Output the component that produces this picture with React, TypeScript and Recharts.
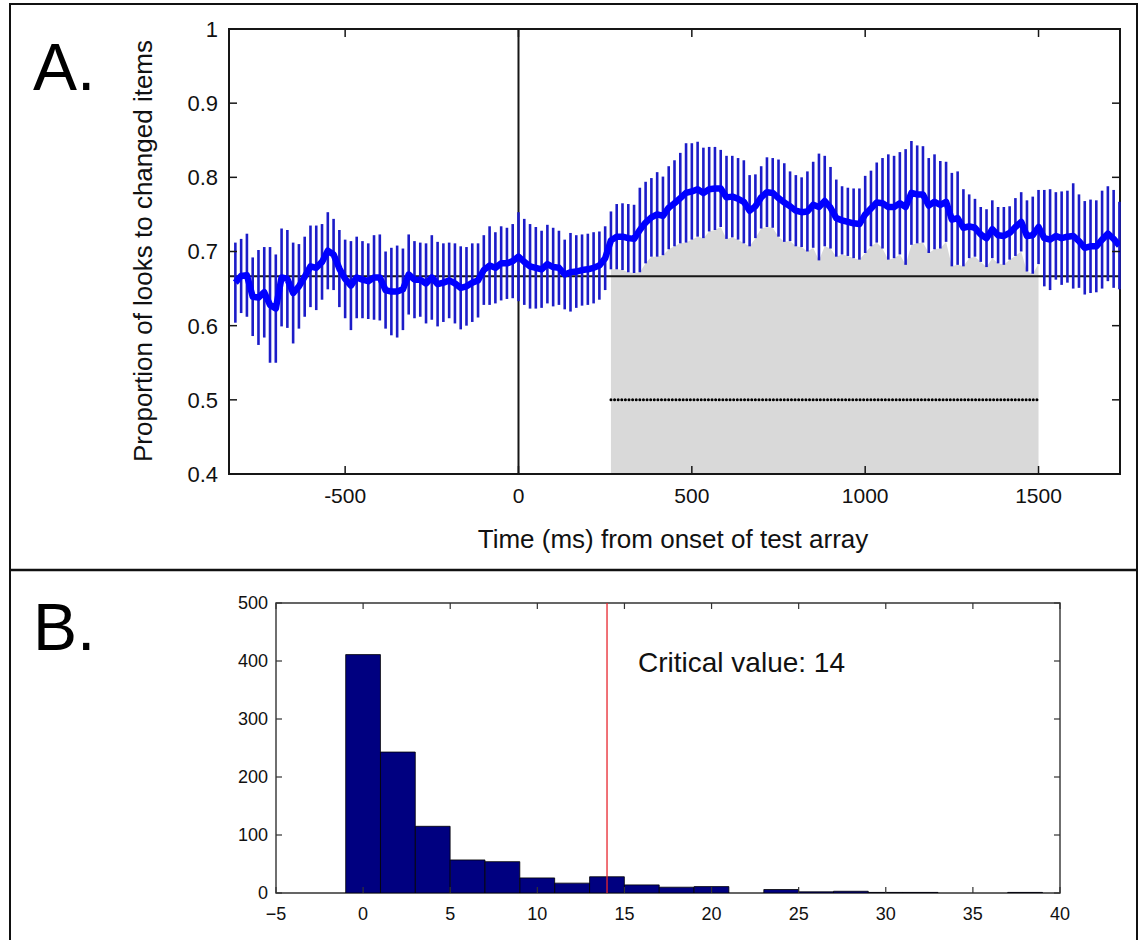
import React from "react";
import {
  Area,
  Bar,
  ComposedChart,
  ErrorBar,
  Line,
  ReferenceArea,
  ReferenceLine,
  XAxis,
  YAxis,
} from "recharts";

// Panel A: 60 Hz eye-tracking frames, first frame at -816.7 ms
const FRAME_MS = 1000 / 60;
const FIRST_FRAME_MS = -49 * FRAME_MS;

// mean proportion of looks to the changed item, one value per frame
const meanLooks = [
  0.658, 0.667, 0.668, 0.639, 0.638, 0.645, 0.628, 0.623, 0.665, 0.663,
  0.644, 0.653, 0.666, 0.68, 0.678, 0.686, 0.701, 0.696, 0.677, 0.663,
  0.654, 0.665, 0.662, 0.66, 0.665, 0.665, 0.648, 0.646, 0.646, 0.649,
  0.669, 0.662, 0.662, 0.657, 0.665, 0.656, 0.658, 0.661, 0.657, 0.651,
  0.653, 0.658, 0.661, 0.675, 0.681, 0.678, 0.684, 0.684, 0.687, 0.693,
  0.686, 0.68, 0.678, 0.676, 0.683, 0.679, 0.678, 0.669, 0.672, 0.673,
  0.675, 0.676, 0.678, 0.681, 0.691, 0.715, 0.72, 0.72, 0.718, 0.717,
  0.729, 0.739, 0.746, 0.75, 0.748, 0.759, 0.765, 0.772, 0.779, 0.781,
  0.784, 0.779, 0.784, 0.785, 0.785, 0.773, 0.774, 0.771, 0.767, 0.755,
  0.761, 0.773, 0.78, 0.779, 0.772, 0.766, 0.761, 0.755, 0.753, 0.754,
  0.763, 0.76, 0.768, 0.759, 0.745, 0.742, 0.74, 0.738, 0.737, 0.75,
  0.758, 0.766, 0.765, 0.76, 0.76, 0.765, 0.76, 0.779, 0.777, 0.777,
  0.762, 0.767, 0.763, 0.767, 0.743, 0.745, 0.732, 0.734, 0.732, 0.723,
  0.718, 0.73, 0.722, 0.721, 0.725, 0.733, 0.74, 0.721, 0.722, 0.733,
  0.718, 0.716, 0.721, 0.718, 0.72, 0.721, 0.714, 0.705, 0.707, 0.707,
  0.716, 0.724, 0.717, 0.708,
];

// standard error per frame
const semLooks = [
  0.054, 0.05, 0.056, 0.053, 0.064, 0.061, 0.078, 0.073, 0.066, 0.066,
  0.068, 0.057, 0.054, 0.055, 0.057, 0.051, 0.052, 0.048, 0.052, 0.053,
  0.06, 0.055, 0.052, 0.051, 0.057, 0.058, 0.052, 0.059, 0.062, 0.055,
  0.054, 0.052, 0.05, 0.054, 0.057, 0.057, 0.053, 0.051, 0.054, 0.056,
  0.053, 0.053, 0.05, 0.047, 0.053, 0.048, 0.05, 0.048, 0.05, 0.06,
  0.058, 0.057, 0.055, 0.052, 0.053, 0.053, 0.05, 0.047, 0.053, 0.049,
  0.048, 0.048, 0.048, 0.046, 0.043, 0.039, 0.044, 0.045, 0.046, 0.046,
  0.057, 0.055, 0.053, 0.057, 0.053, 0.056, 0.058, 0.061, 0.067, 0.065,
  0.064, 0.061, 0.057, 0.056, 0.052, 0.056, 0.055, 0.055, 0.056, 0.048,
  0.043, 0.042, 0.047, 0.047, 0.052, 0.053, 0.047, 0.048, 0.047, 0.054,
  0.058, 0.072, 0.061, 0.055, 0.052, 0.046, 0.046, 0.047, 0.048, 0.052,
  0.051, 0.054, 0.061, 0.071, 0.069, 0.069, 0.078, 0.07, 0.066, 0.065,
  0.064, 0.064, 0.059, 0.054, 0.063, 0.063, 0.052, 0.043, 0.039, 0.037,
  0.039, 0.039, 0.038, 0.039, 0.036, 0.039, 0.04, 0.048, 0.052, 0.05,
  0.065, 0.068, 0.059, 0.063, 0.062, 0.071, 0.063, 0.063, 0.063, 0.062,
  0.066, 0.064, 0.066, 0.059,
];

const CHANCE = 2 / 3;
const SIG_START = 266.7;
const SIG_END = 1500;
const SIG_MARK_Y = 0.5;

const xTicksA = [-500, 0, 500, 1000, 1500];
const yTicksA = [0.4, 0.5, 0.6, 0.7, 0.8, 0.9, 1];
const X_DOMAIN_A: [number, number] = [-835, 1735];

// Panel B: permutation distribution of cluster sizes
const binCenters = [0, 2, 4, 6, 8, 10, 12, 14, 16, 18, 20, 22, 24, 26, 28, 30, 32, 34, 36, 38];
const binCounts = [411, 243, 115, 57, 54, 26, 17, 28, 14, 10, 11, 0, 6, 2, 3, 1, 1, 0, 0, 1];
const BIN_WIDTH = 2;
const CRITICAL = 14;
const xTicksB = [-5, 0, 5, 10, 15, 20, 25, 30, 35, 40];
const yTicksB = [0, 100, 200, 300, 400, 500];
const X_DOMAIN_B: [number, number] = [-5, 40];

const FONT = '"Liberation Sans", Arial, Helvetica, sans-serif';
const INK = "#161616";

// plot boxes, in each chart's own svg coordinates
const A = { top: 29, bottom: 474, left: 229, right: 1120 };
const B = { top: 33, bottom: 323, left: 276, right: 1060 };

const rowsA = meanLooks.map((m, i) => {
  const t = FIRST_FRAME_MS + i * FRAME_MS;
  const inWindow = t >= SIG_START - 1 && t <= SIG_END + 1;
  return { t, mean: m, sem: semLooks[i], shade: inWindow ? m - semLooks[i] : null };
});

const rowsB = binCenters.map((c, i) => ({ bin: c, count: binCounts[i] }));

// one histogram bin in pixels, slightly under the band so recharts keeps it as given
const binPx = ((B.right - B.left) / (X_DOMAIN_B[1] - X_DOMAIN_B[0])) * BIN_WIDTH - 0.1;

function XTickA({ x, y, payload }: any) {
  return (
    <g>
      <line x1={x} x2={x} y1={y} y2={y - 8} stroke={INK} strokeWidth={1.5} />
      <line x1={x} x2={x} y1={A.top} y2={A.top + 8} stroke={INK} strokeWidth={1.5} />
      <text x={x} y={y + 29} textAnchor="middle" fontSize={21} fontFamily={FONT} fill="#111">
        {payload.value}
      </text>
    </g>
  );
}

function YTickA({ x, y, payload }: any) {
  return (
    <g>
      <line x1={x} x2={x + 8} y1={y} y2={y} stroke={INK} strokeWidth={1.5} />
      <line x1={A.right} x2={A.right - 8} y1={y} y2={y} stroke={INK} strokeWidth={1.5} />
      <text x={x - 11} y={y} dy="0.36em" textAnchor="end" fontSize={22} fontFamily={FONT} fill="#111">
        {payload.value}
      </text>
    </g>
  );
}

function XTickB({ x, y, payload }: any) {
  const label = payload.value < 0 ? `\u2212${Math.abs(payload.value)}` : `${payload.value}`;
  return (
    <g>
      <line x1={x} x2={x} y1={y} y2={y - 6} stroke="#333" strokeWidth={1.2} />
      <line x1={x} x2={x} y1={B.top} y2={B.top + 6} stroke="#333" strokeWidth={1.2} />
      <text x={x} y={y + 27} textAnchor="middle" fontSize={18} fontFamily={FONT} fill="#111">
        {label}
      </text>
    </g>
  );
}

function YTickB({ x, y, payload }: any) {
  return (
    <g>
      <line x1={x} x2={x + 6} y1={y} y2={y} stroke="#333" strokeWidth={1.2} />
      <line x1={B.right} x2={B.right - 6} y1={y} y2={y} stroke="#333" strokeWidth={1.2} />
      <text x={x - 8} y={y} dy="0.36em" textAnchor="end" fontSize={18} fontFamily={FONT} fill="#111">
        {payload.value}
      </text>
    </g>
  );
}

export default function App() {
  return (
    <div style={{ position: "absolute", left: 0, top: 0, width: 1139, height: 940, background: "#fff" }}>
      <div style={{ position: "absolute", left: 0, top: 0 }}>
        <ComposedChart
          width={1139}
          height={570}
          data={rowsA}
          margin={{ top: A.top, right: 1139 - A.right, bottom: 570 - A.bottom - 30, left: A.left - 60 }}
        >
          <XAxis
            dataKey="t"
            type="number"
            domain={X_DOMAIN_A}
            ticks={xTicksA}
            interval={0}
            allowDataOverflow
            height={30}
            tickSize={0}
            tickMargin={0}
            tickLine={false}
            axisLine={false}
            tick={XTickA}
          />
          <YAxis
            type="number"
            domain={[0.4, 1]}
            ticks={yTicksA}
            interval={0}
            allowDataOverflow
            width={60}
            tickSize={0}
            tickMargin={0}
            tickLine={false}
            axisLine={false}
            tick={YTickA}
          />
          <Area
            dataKey="shade"
            type="linear"
            baseValue={0.4}
            fill="#d9d9d9"
            fillOpacity={1}
            stroke="none"
            isAnimationActive={false}
          />
          <ReferenceLine y={CHANCE} stroke={INK} strokeWidth={2} />
          <ReferenceLine x={0} stroke={INK} strokeWidth={2} />
          <ReferenceLine
            segment={[
              { x: SIG_START, y: SIG_MARK_Y },
              { x: SIG_END, y: SIG_MARK_Y },
            ]}
            stroke="#000"
            strokeWidth={3}
            strokeDasharray="0.01 3.6"
            strokeLinecap="round"
          />
          <Line dataKey="mean" stroke="none" dot={false} activeDot={false} isAnimationActive={false}>
            <ErrorBar dataKey="sem" direction="y" width={0} stroke="#1c1cc8" strokeWidth={2.6} isAnimationActive={false} />
          </Line>
          <Line
            dataKey="mean"
            type="linear"
            stroke="#0000ff"
            strokeWidth={6.5}
            strokeLinejoin="round"
            dot={false}
            activeDot={false}
            isAnimationActive={false}
          />
          <ReferenceArea
            x1={X_DOMAIN_A[0]}
            x2={X_DOMAIN_A[1]}
            y1={0.4}
            y2={1}
            fill="none"
            stroke={INK}
            strokeWidth={2}
          />
        </ComposedChart>
      </div>

      <div style={{ position: "absolute", left: 0, top: 570 }}>
        <ComposedChart
          width={1139}
          height={370}
          data={rowsB}
          barCategoryGap={0}
          barGap={0}
          margin={{ top: B.top, right: 1139 - B.right, bottom: 370 - B.bottom - 30, left: B.left - 60 }}
        >
          <XAxis
            dataKey="bin"
            type="number"
            domain={X_DOMAIN_B}
            ticks={xTicksB}
            interval={0}
            allowDataOverflow
            height={30}
            tickSize={0}
            tickMargin={0}
            tickLine={false}
            axisLine={false}
            tick={XTickB}
          />
          <YAxis
            type="number"
            domain={[0, 500]}
            ticks={yTicksB}
            interval={0}
            allowDataOverflow
            width={60}
            tickSize={0}
            tickMargin={0}
            tickLine={false}
            axisLine={false}
            tick={YTickB}
          />
          <Bar
            dataKey="count"
            fill="#000080"
            stroke="#000"
            strokeWidth={0.8}
            barSize={binPx}
            isAnimationActive={false}
          />
          <ReferenceLine x={CRITICAL} stroke="#e8262e" strokeWidth={1.3} />
          <ReferenceArea x1={X_DOMAIN_B[0]} x2={X_DOMAIN_B[1]} y1={0} y2={500} fill="none" stroke="#333" strokeWidth={1.4} />
        </ComposedChart>
      </div>

      <svg
        width={1139}
        height={940}
        style={{ position: "absolute", left: 0, top: 0, pointerEvents: "none" }}
        fontFamily={FONT}
      >
        <rect x={10} y={4} width={1127} height={980} fill="none" stroke="#111" strokeWidth={2} />
        <line x1={10} x2={1137} y1={570} y2={570} stroke="#111" strokeWidth={2.5} />
        <text x={33} y={90} fontSize={66} fill="#000">A.</text>
        <text x={33} y={650} fontSize={66} fill="#000">B.</text>
        <text
          x={0}
          y={0}
          transform="translate(143 251) rotate(-90)"
          textAnchor="middle"
          dominantBaseline="central"
          fontSize={26}
          fill="#111"
        >
          Proportion of looks to changed items
        </text>
        <text x={673} y={548} textAnchor="middle" fontSize={26} fill="#111">
          Time (ms) from onset of test array
        </text>
        <text x={638} y={672} fontSize={28} fill="#111">
          Critical value: 14
        </text>
      </svg>
    </div>
  );
}
